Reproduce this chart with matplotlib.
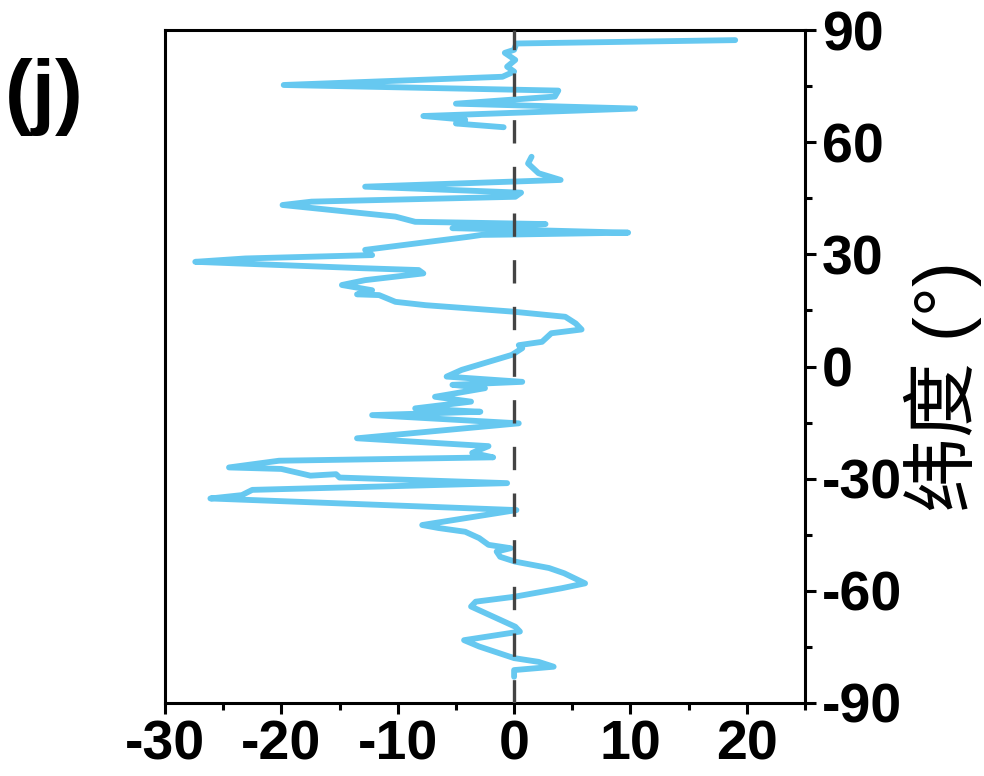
import numpy as np
import matplotlib
matplotlib.use('Agg')
import matplotlib.pyplot as plt
from matplotlib.ticker import MultipleLocator

# Datos: latitud (°) y valor (de sur a norte)
latitud = [-83.0, -81.2, -80.3, -79.0, -78.0, -74.9, -73.2, -70.9, -69.6, -64.2,
           -62.9, -61.6, -59.3, -58.0, -55.3, -53.9, -52.2, -50.9, -49.5, -48.6,
           -47.7, -45.9, -44.2, -43.2, -42.4, -38.4, -35.3, -34.4, -33.0, -31.2,
           -29.7, -28.8, -29.2, -27.4, -27.0, -25.2, -24.3, -23.1, -21.3, -19.2,
           -15.2, -13.0, -12.1, -11.2, -9.4, -8.1, -7.2, -5.8, -4.9, -4.1,
           -2.7, -0.9, 3.1, 4.9, 5.7, 6.6, 8.9, 9.9, 11.5, 13.3,
           14.7, 16.4, 17.3, 19.1, 19.3, 20.4, 21.8, 23.1, 24.9, 25.8,
           26.3, 28.0, 28.9, 29.8, 31.2, 34.7, 35.2, 35.3, 35.8, 36.5,
           37.0, 38.1, 38.5, 38.7, 40.1, 43.2, 44.1, 45.4, 46.5, 48.1,
           49.9, 51.7, 54.3, 56.1, np.nan,
           64.0, 65.0, 66.0, 67.0, 69.0, 70.3, 72.2, 73.8, 75.3, 77.5,
           78.9, 80.2, 82.0, 83.9, 84.7, 86.4, 87.3]
valor = [0.0, 0.0, 3.4, 2.1, 0.0, -3.0, -4.3, 0.5, 0.1, -3.7,
         -3.3, 0.0, 4.1, 6.1, 4.3, 3.0, 0.1, -1.2, -1.5, -0.3,
         -2.2, -3.0, -4.2, -6.5, -7.9, 0.2, -26.1, -23.4, -22.5, -0.6,
         -15.0, -15.3, -17.5, -20.0, -24.5, -20.2, -1.8, -3.6, -2.2, -13.5,
         0.4, -12.2, -2.9, -8.5, -3.7, -6.8, -5.1, -2.5, -5.3, 0.7,
         -5.8, -4.5, -0.2, 0.7, 0.4, 2.4, 3.2, 5.8, 5.3, 4.4,
         -0.2, -7.6, -10.2, -11.6, -13.5, -12.2, -14.8, -12.8, -7.8, -8.2,
         -13.1, -27.4, -23.1, -12.2, -12.8, -3.9, -2.8, -0.2, 9.8, 1.2,
         -5.3, 2.7, -4.5, -8.5, -10.2, -19.9, -17.4, 0.1, 0.6, -12.8,
         4.0, 2.1, 1.2, 1.5, np.nan,
         -0.9, -5.0, -4.2, -7.8, 10.4, -5.0, 3.5, 3.8, -19.8, -1.0,
         0.0, -0.6, 0.1, -0.8, 0.0, 0.2, 19.0]

plt.rcParams['axes.unicode_minus'] = False
plt.rcParams['font.family'] = ['Liberation Sans', 'Noto Sans CJK SC']

fig = plt.figure(figsize=(9.84, 7.76), dpi=100)
ax = fig.add_axes([0.1677, 0.0941, 0.6504, 0.8672])

ax.plot(valor, latitud, color='#66C8F0', lw=4.2,
        solid_capstyle='round', solid_joinstyle='round', zorder=2)
ax.axvline(0, color='#444444', lw=2.4, dashes=(7, 7), zorder=3)

ax.set_xlim(-30, 25)
ax.set_ylim(-90, 90)

ax.xaxis.set_major_locator(MultipleLocator(10))
ax.xaxis.set_minor_locator(MultipleLocator(5))
ax.yaxis.set_major_locator(MultipleLocator(30))
ax.yaxis.set_minor_locator(MultipleLocator(15))

ax.yaxis.tick_right()
ax.tick_params(which='both', direction='out', width=2.2, top=False, left=False)
ax.tick_params(which='major', length=8, pad=4, labelsize=40)
ax.tick_params(which='minor', length=5)
for lab in ax.get_xticklabels() + ax.get_yticklabels():
    lab.set_fontweight('bold')

for s in ax.spines.values():
    s.set_linewidth(2.2)

ax.yaxis.set_label_position('right')
ax.set_ylabel('纬度 (°)', fontsize=54, rotation=90, va='center', ha='center')
ax.yaxis.set_label_coords(1.215, 0.47)

# etiqueta del panel
fig.text(44 / 984, 1 - 97 / 776, '(j)', fontsize=60, fontweight='bold',
         ha='center', va='center')

plt.savefig('out.png', dpi=100)
